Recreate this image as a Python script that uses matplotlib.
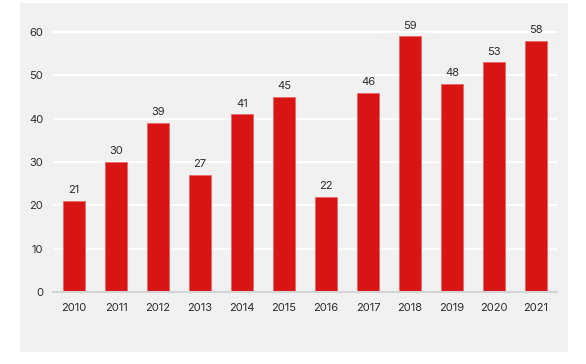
import matplotlib.pyplot as plt
import matplotlib.patches as mpatches

years = ['2010', '2011', '2012', '2013', '2014', '2015',
         '2016', '2017', '2018', '2019', '2020', '2021']
counts = [21, 30, 39, 27, 41, 45, 22, 46, 59, 48, 53, 58]

plt.rcParams['font.family'] = ['Inter', 'DejaVu Sans']

fig = plt.figure(figsize=(5.86, 3.64), dpi=100)
fig.patch.set_facecolor('white')

# grey panel behind the chart
fig.patches.append(mpatches.Rectangle(
    (20 / 586, 1 - 352 / 364), 548 / 586, 349 / 364,
    transform=fig.transFigure, facecolor='#f1f1f1', edgecolor='none', zorder=-10))

ax = fig.add_axes([53 / 586, 1 - 292 / 364, 504 / 586, 282 / 364])
ax.patch.set_visible(False)

xpos = range(len(years))
bars = ax.bar(xpos, counts, width=0.52, color='#d91414',
              edgecolor='#e86a6a', linewidth=0.6, zorder=3)

for x, v in zip(xpos, counts):
    ax.text(x, v + 1.3, str(v), ha='center', va='bottom',
            fontsize=8, color='#2b2b2b')

ax.set_xlim(-0.5, 11.5)
ax.set_ylim(0, 282 / (260 / 60))
ax.set_yticks([0, 10, 20, 30, 40, 50, 60])
ax.set_xticks(list(xpos))
ax.set_xticklabels(years)

ax.yaxis.grid(True, color='white', linewidth=1.6, zorder=1)
ax.set_axisbelow(True)
for s in ['top', 'right', 'left']:
    ax.spines[s].set_visible(False)
ax.spines['bottom'].set_color('#d4d4d4')
ax.spines['bottom'].set_linewidth(1.5)
ax.spines['bottom'].set_zorder(4)

ax.tick_params(axis='both', length=0, labelsize=8, colors='#2b2b2b')
ax.tick_params(axis='x', pad=8)
ax.tick_params(axis='y', pad=7)

fig.savefig('out.png', dpi=100)
